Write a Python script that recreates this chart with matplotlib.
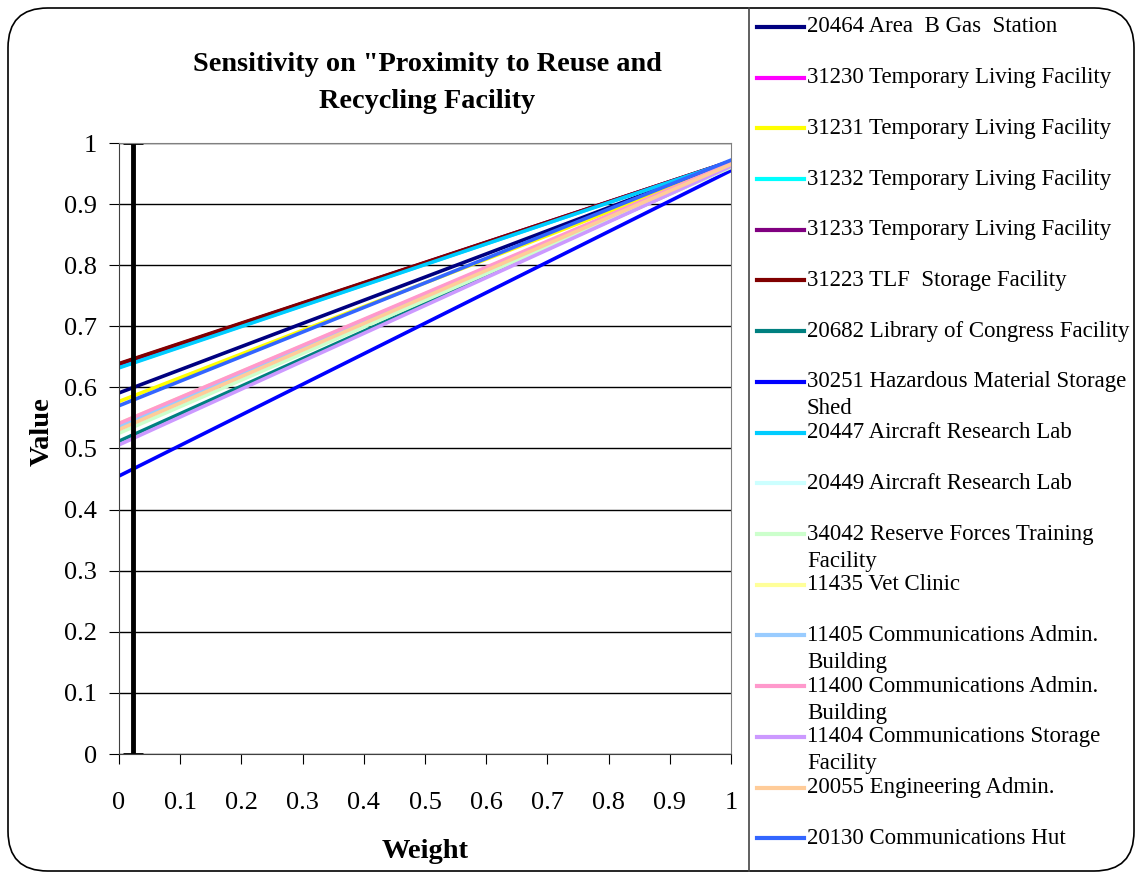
import numpy as np
import matplotlib.pyplot as plt
from matplotlib.patches import FancyBboxPatch
from matplotlib.lines import Line2D

plt.rcParams['font.family'] = ['Liberation Serif', 'DejaVu Serif']

# data
weights = [0.0, 1.0]
labels = [
    "20464 Area  B Gas  Station",
    "31230 Temporary Living Facility",
    "31231 Temporary Living Facility",
    "31232 Temporary Living Facility",
    "31233 Temporary Living Facility",
    "31223 TLF  Storage Facility",
    "20682 Library of Congress Facility",
    "30251 Hazardous Material Storage\nShed",
    "20447 Aircraft Research Lab",
    "20449 Aircraft Research Lab",
    "34042 Reserve Forces Training\nFacility",
    "11435 Vet Clinic",
    "11405 Communications Admin.\nBuilding",
    "11400 Communications Admin.\nBuilding",
    "11404 Communications Storage\nFacility",
    "20055 Engineering Admin.",
    "20130 Communications Hut",
]
start_vals = [0.591, 0.638, 0.577, 0.633, 0.638, 0.639, 0.512, 0.455, 0.632,
              0.534, 0.525, 0.541, 0.536, 0.541, 0.506, 0.531, 0.570]
end_vals = [0.970, 0.970, 0.965, 0.970, 0.970, 0.970, 0.962, 0.955, 0.970,
            0.965, 0.960, 0.965, 0.965, 0.967, 0.962, 0.965, 0.972]
colors = ['#000080', '#FF00FF', '#FFFF00', '#00FFFF', '#800080', '#800000',
          '#008080', '#0000FF', '#00CCFF', '#CCFFFF', '#CCFFCC', '#FFFF99',
          '#99CCFF', '#FF99CC', '#CC99FF', '#FFCC99', '#3366FF']
marker_weight = 0.023

W, H = 1135, 872
fig = plt.figure(figsize=(W/100, H/100), dpi=100)

# outer rounded frame
frame = FancyBboxPatch((8/W, 1/H), (W-9)/W, (H-9)/H,
                       boxstyle="round,pad=0,rounding_size=0.035",
                       transform=fig.transFigure, fill=False, ec='black', lw=1.2,
                       mutation_aspect=W/H)
fig.patches.append(frame)
fig.add_artist(Line2D([749/W, 749/W], [0, 1-8/H], color='#444444', lw=1.2))

ax = fig.add_axes([119/W, 1-754/H, (731-119)/W, (754-143)/H])

for i in range(len(labels)):
    ax.plot(weights, [start_vals[i], end_vals[i]], color=colors[i], lw=2.6)

# current weight marker
ax.plot([marker_weight, marker_weight], [0, 1], color='black', lw=3.5,
        marker='_', markersize=14, markeredgewidth=2)

ax.set_xlim(0, 1)
ax.set_ylim(0, 1)
ticks = np.arange(0, 1.01, 0.1)
tick_labels = ['0'] + ['%.1f' % v for v in ticks[1:-1]] + ['1']
ax.set_xticks(ticks)
ax.set_yticks(ticks)
ax.set_xticklabels(tick_labels)
ax.set_yticklabels(tick_labels)
ax.tick_params(labelsize=19, length=7, direction='out')
ax.tick_params(axis='x', pad=20)
ax.tick_params(axis='y', pad=9)
ax.grid(axis='y', color='black', lw=1)
ax.set_axisbelow(True)
for s in ['top', 'right']:
    ax.spines[s].set_color('#808080')
ax.spines['left'].set_color('#404040')
ax.spines['bottom'].set_color('#404040')

ax.set_xlabel('Weight', fontsize=20.5, fontweight='bold', labelpad=18)
ax.set_ylabel('Value', fontsize=20.5, fontweight='bold')
ax.yaxis.set_label_coords((55-119)/612, (754-432)/611)

fig.text(427/W, 1-83/H, 'Sensitivity on "Proximity to Reuse and\nRecycling Facility',
         ha='center', va='center', fontsize=20.3, fontweight='bold', linespacing=1.6)

# legend drawn by hand to reproduce the wrapped layout
y0, dy = 27, 50.7
for i, lab in enumerate(labels):
    yy = 1 - (y0 + i*dy)/H
    fig.add_artist(Line2D([757/W, 804/W], [yy, yy], color=colors[i], lw=3))
    parts = lab.split('\n')
    for k, part in enumerate(parts):
        fig.text(807/W, yy - k*27/H, part, ha='left', va='center', fontsize=16.5)

fig.savefig('out.png', dpi=100)
